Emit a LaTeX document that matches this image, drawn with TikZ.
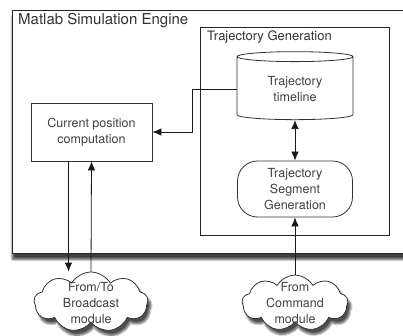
\documentclass[tikz,border=0pt]{standalone}
\usepackage{fontspec}
\setmainfont{TeX Gyre Heros}
\usetikzlibrary{arrows.meta,positioning,shapes.geometric,shapes.symbols,shadows.blur}

\begin{document}
\begin{tikzpicture}[x=1pt, y=-1pt,
  frame/.style={draw=black!85, line width=0.8pt, fill=white, anchor=north west,
    inner sep=0pt},
  ttl/.style={anchor=base west, inner sep=0pt, text=black!80},
  box/.style={draw=black!80, line width=0.8pt, fill=white, align=center,
    inner sep=2pt, font=\fontsize{12.5}{16}\selectfont, text=black!75},
  store/.style={box, cylinder, shape border rotate=90, aspect=0.17},
  puff/.style={draw=black!80, line width=0.8pt, fill=white, cloud, cloud puffs=9,
    cloud puff arc=120, inner sep=0pt,
    blur shadow={shadow xshift=3pt, shadow yshift=-5pt, shadow blur steps=8,
      shadow opacity=70}},
  puffText/.style={align=center, font=\fontsize{12.5}{16}\selectfont, text=black!75},
  arr/.style={-{Latex[length=9pt,width=7.5pt]}, line width=0.8pt, black!90},
  dblarr/.style={{Latex[length=9pt,width=7.5pt]}-{Latex[length=9pt,width=7.5pt]},
    line width=0.8pt, black!90}
]
  \useasboundingbox (0,0) rectangle (403,336);

  % outer engine frame
  \node[frame, minimum width=420, minimum height=243,
    blur shadow={shadow xshift=0pt, shadow yshift=-6pt, shadow blur steps=10,
      shadow opacity=75}]
    (engine) at (12,10) {};
  \node[ttl, font=\fontsize{15}{18}\selectfont] (engineTitle) at (18,25)
    {Matlab Simulation Engine};

  % trajectory generation frame
  \node[frame, minimum width=189, minimum height=208] (trajGen) at (200,27) {};
  \node[ttl, font=\fontsize{13}{16}\selectfont] (trajTitle) at (207,41)
    {Trajectory Generation};

  \node[store, minimum width=116, minimum height=68] (timeline) at (295,89)
    {Trajectory\\timeline};
  \node[box, rounded corners=20pt, minimum width=115, minimum height=56]
    (segment) at (295,189) {Trajectory\\Segment\\Generation};

  \node[box, minimum width=121, minimum height=58] (current) at (91.5,132)
    {Current position\\computation};

  % external modules
  \node[puff, minimum width=114, minimum height=60] (broadcast) at (91,302) {};
  \node[puffText] (broadcastText) at (91,303) {From/To\\Broadcast\\module};
  \node[puff, minimum width=106, minimum height=56] (command) at (295,303) {};
  \node[puffText] (commandText) at (295,303) {From\\Command\\module};

  \draw[arr] (timeline.west) -- ++(-44,0) |- (current.east);
  \draw[dblarr] (timeline.south) -- (segment.north);
  \draw[arr] ([xshift=-23pt]current.south) -- ([xshift=-23pt]current.south |- broadcast.north);
  \draw[arr] (broadcast.north) -- (current.south);
  \draw[arr] (command.north) -- (segment.south);
\end{tikzpicture}
\end{document}
